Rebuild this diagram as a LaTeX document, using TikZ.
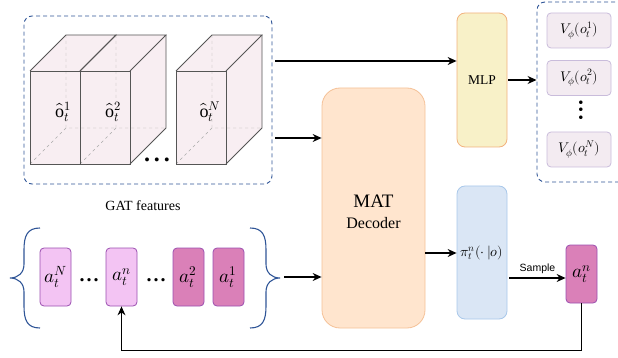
\documentclass[tikz,border=0pt]{standalone}
\usepackage{fontspec}
\usepackage{unicode-math}
\setmainfont{Liberation Serif}
\setsansfont{Liberation Sans}
\setmathfont{Latin Modern Math}
\usetikzlibrary{arrows.meta}

\definecolor{dashblue}{HTML}{2F5597}
\definecolor{cubefill}{HTML}{F8EEF2}
\definecolor{cubeline}{HTML}{555555}
\definecolor{mlpfill}{HTML}{F8F1C8}
\definecolor{mlpline}{HTML}{F2B27E}
\definecolor{matfill}{HTML}{FFE5CE}
\definecolor{matline}{HTML}{F5C197}
\definecolor{pifill}{HTML}{DAE6F5}
\definecolor{piline}{HTML}{A9C8EA}
\definecolor{vfill}{HTML}{F3EBF1}
\definecolor{vline}{HTML}{C9BCDB}
\definecolor{alight}{HTML}{F3C4F3}
\definecolor{adark}{HTML}{DA80B8}
\definecolor{aline}{HTML}{9B4FB0}

\tikzstyle{dashbox}=[rectangle,rounded corners=8pt,draw=dashblue,dashed,line width=0.9pt,dash pattern=on 4pt off 3pt]
\tikzstyle{mlpbox}=[rectangle,rounded corners=8pt,draw=mlpline,fill=mlpfill,minimum width=50pt,minimum height=134pt]
\tikzstyle{pibox}=[rectangle,rounded corners=8pt,draw=piline,fill=pifill,minimum width=50pt,minimum height=133pt]
\tikzstyle{matbox}=[rectangle,rounded corners=18pt,draw=matline,fill=matfill,minimum width=103pt,minimum height=240pt]
\tikzstyle{vbox}=[rectangle,rounded corners=4pt,draw=vline,fill=vfill,line width=0.8pt,minimum width=64pt,minimum height=35pt,inner sep=0pt,font=\fontsize{14}{14}\selectfont]
\tikzstyle{abox}=[rectangle,rounded corners=4pt,draw=aline,line width=0.8pt,minimum width=31pt,minimum height=58pt,inner sep=0pt,font=\fontsize{19}{19}\selectfont]
\tikzstyle{brace}=[draw=dashblue,line width=1.1pt]

\begin{document}
\begin{tikzpicture}[x=1pt,y=-1pt,>={Stealth[length=9pt,width=8pt,inset=3pt]},line width=0.8pt]
\useasboundingbox (0,0) rectangle (618,358);
% GAT features
\node(gat)[dashbox,minimum width=248pt,minimum height=168pt] at (148,100) {};
\foreach \cx in {30,80,176}
  \fill[cubefill] (\cx,71)--(\cx+36,35)--(\cx+86,35)--(\cx+86,128)--(\cx+50,164)--(\cx,164)--cycle;
\foreach \cx in {30,80,176}
  \draw[cubeline!50,dashed,line width=0.4pt] (\cx,164)--(\cx+36,128)--(\cx+86,128) (\cx+36,35)--(\cx+36,128);
\foreach \cx/\side in {30/0,80/1,176/1} {
  \draw[cubeline] (\cx,71) rectangle (\cx+50,164);
  \draw[cubeline] (\cx,71)--(\cx+36,35)--(\cx+86,35)--(\cx+50,71);
  \ifnum\side=1 \draw[cubeline] (\cx+86,35)--(\cx+86,128)--(\cx+50,164); \fi
}
\node(o1)[font=\fontsize{18}{18}\selectfont] at (63,112) {$\hat{\mathrm{o}}_t^1$};
\node(o2)[font=\fontsize{18}{18}\selectfont] at (113,112) {$\hat{\mathrm{o}}_t^2$};
\node(oN)[font=\fontsize{18}{18}\selectfont] at (210,112) {$\hat{\mathrm{o}}_t^N$};
\node(gatdots)[font=\fontsize{24}{24}\selectfont\bfseries] at (157,160) {.\hspace{4pt}.\hspace{4pt}.};
\node(gatlabel)[font=\fontsize{14}{14}\selectfont] at (143,206) {GAT features};
% MLP and values
\node(mlp)[mlpbox,font=\fontsize{13.5}{13.5}\selectfont] at (482,80) {MLP};
\node(values)[dashbox,minimum width=93pt,minimum height=180pt] at (583.5,92) {};
\node(v1)[vbox] at (579,30.5) {$V_\phi(o_t^1)$};
\node(v2)[vbox] at (579,78) {$V_\phi(o_t^2)$};
\node(vN)[vbox] at (579,149.5) {$V_\phi(o_t^N)$};
\node(vdots)[rotate=90,font=\fontsize{22}{22}\selectfont\bfseries] at (581,110) {.\hspace{2pt}.\hspace{2pt}.};
% decoder and policy
\node(mat)[matbox] at (373.5,208) {};
\node(mattitle)[font=\fontsize{19}{19}\selectfont] at (373.5,201) {MAT};
\node(matsub)[font=\fontsize{16}{16}\selectfont] at (373.5,223) {Decoder};
\node(pi)[pibox] at (482,252.5) {};
\node(pilabel)[font=\fontsize{14}{14}\selectfont] at (482,253) {$\pi_t^n(\cdot\,|o)$};
\node(atsample)[abox,fill=adark] at (581.5,274) {$a_t^n$};
% actions
\node(aN)[abox,fill=alight] at (55.5,277) {$a_t^N$};
\node(an)[abox,fill=alight] at (121.5,277) {$a_t^n$};
\node(a2)[abox,fill=adark] at (188.5,277) {$a_t^2$};
\node(a1)[abox,fill=adark] at (228.5,277) {$a_t^1$};
\node(adots1)[font=\fontsize{20}{20}\selectfont\bfseries] at (89,280) {.\hspace{2pt}.\hspace{2pt}.};
\node(adots2)[font=\fontsize{20}{20}\selectfont\bfseries] at (156,280) {.\hspace{2pt}.\hspace{2pt}.};
\draw[brace] (40,228) .. controls (27,228) and (24,236) .. (24,250) -- (24,264) .. controls (24,273) and (18,278) .. (10,278) .. controls (18,278) and (24,283) .. (24,292) -- (24,306) .. controls (24,320) and (27,328) .. (40,328);
\draw[brace] (250,228) .. controls (263,228) and (266,236) .. (266,250) -- (266,264) .. controls (266,273) and (272,278) .. (280,278) .. controls (272,278) and (266,283) .. (266,292) -- (266,306) .. controls (266,320) and (263,328) .. (250,328);
\coordinate(rbrace) at (284,277);
% connectors
\coordinate(gatup) at ([xshift=3pt,yshift=39pt]gat.east);
\coordinate(gatlow) at ([xshift=3pt,yshift=-38pt]gat.east);
\coordinate(matout) at ([yshift=-45pt]mat.east);
\coordinate(piout) at ([xshift=2pt,yshift=-25.5pt]pi.east);
\draw[->,line width=1.1pt](gatup)--(gatup -| mlp.west);
\draw[->,line width=1.1pt](gatlow)--(gatlow -| mat.west);
\draw[->,line width=1.1pt](rbrace)--(rbrace -| mat.west);
\draw[->,line width=1.1pt]([xshift=1pt]mlp.east)--(mlp.east -| values.west);
\draw[->,line width=1.1pt](matout)--(matout -| pi.west);
\draw[->,line width=1.1pt](piout)--(piout -| atsample.west)node[midway,above,font=\sffamily\fontsize{10.5}{10.5}\selectfont]{Sample};
\draw[->,line width=1.1pt](atsample.south)--++(0,47)-|(an.south);
\end{tikzpicture}
\end{document}
